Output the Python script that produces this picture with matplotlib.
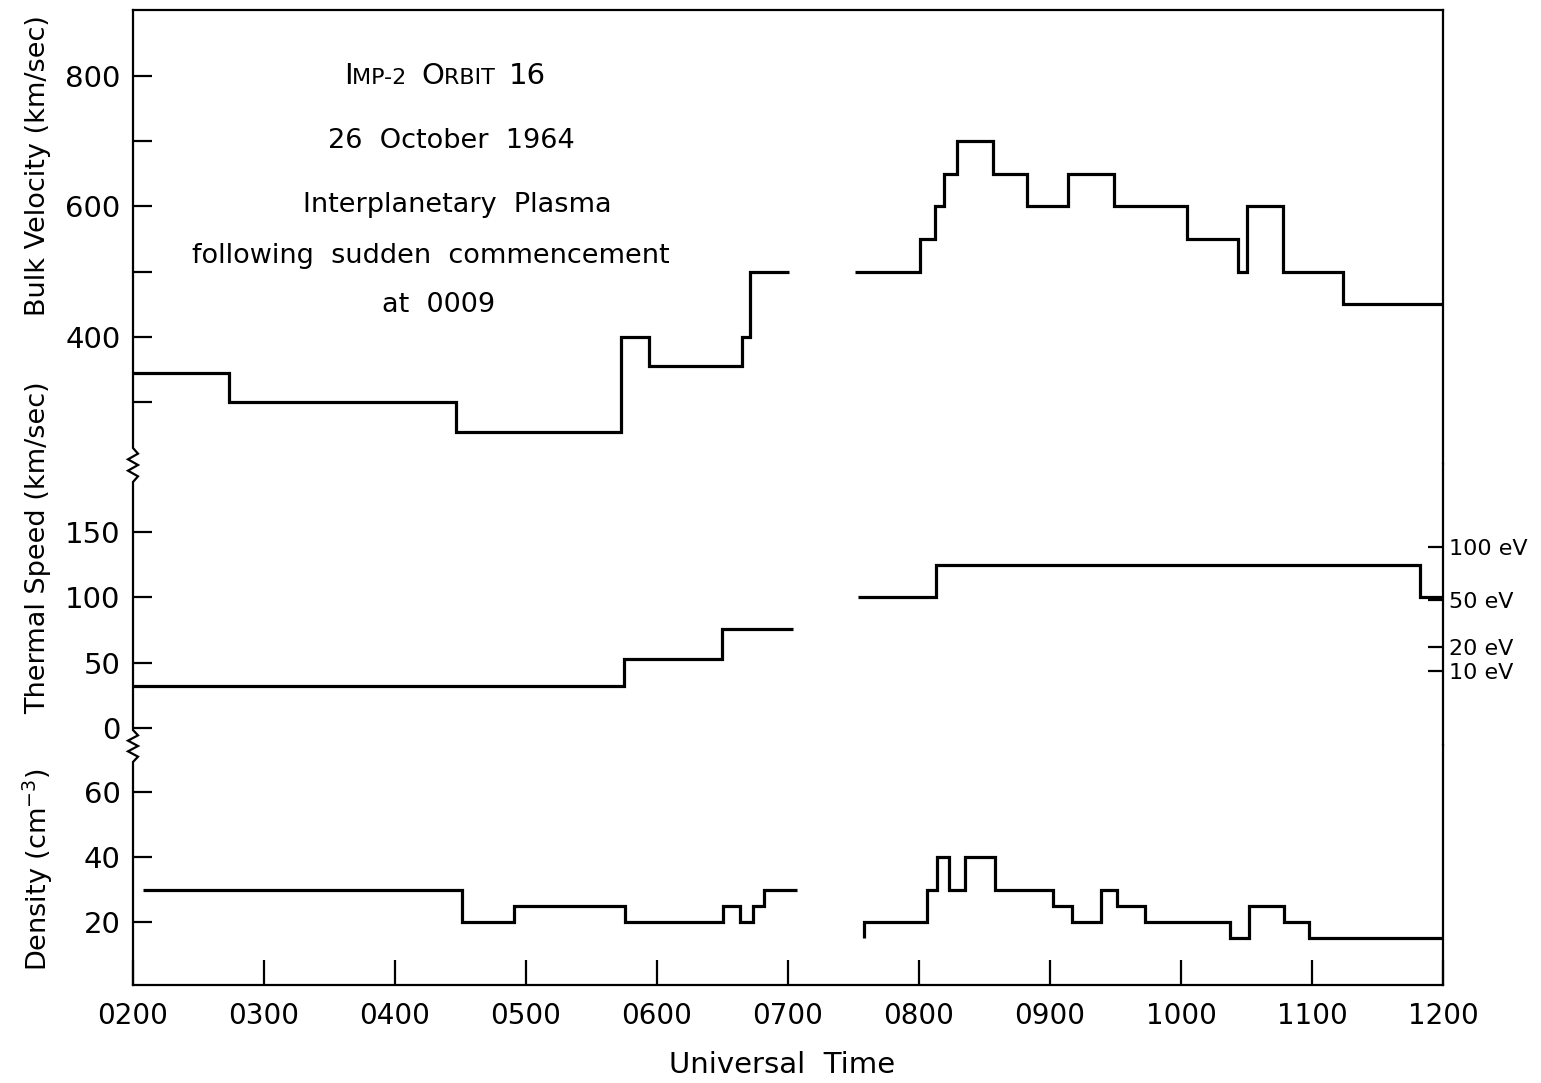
import matplotlib
matplotlib.use("Agg")
import matplotlib.pyplot as plt
from matplotlib.lines import Line2D
from matplotlib.offsetbox import TextArea, HPacker, AnnotationBbox

# --- data (time in hours UT) ---
vel_edges_a = [2.0, 2.733, 4.466, 5.725, 5.939, 6.649, 6.710, 7.008]
vel_vals_a = [345, 300, 255, 400, 355, 400, 500]
vel_edges_b = [7.511, 8.008, 8.122, 8.191, 8.290, 8.565, 8.824, 9.137, 9.489,
               10.046, 10.435, 10.504, 10.779, 11.237, 12.0]
vel_vals_b = [500, 550, 600, 650, 700, 650, 600, 650, 600, 550, 500, 600, 500, 450]

th_edges_a = [2.0, 5.748, 6.496, 7.038]
th_vals_a = [32, 53, 76]
th_edges_b = [7.534, 8.130, 11.824, 12.0]
th_vals_b = [100, 125, 100]

den_edges_a = [2.076, 4.511, 4.908, 5.756, 6.504, 6.634, 6.733, 6.817, 7.069]
den_vals_a = [30, 20, 25, 20, 25, 20, 25, 30]
den_edges_b = [7.580, 7.580, 8.061, 8.137, 8.229, 8.351, 8.580, 9.023, 9.168,
               9.389, 9.511, 9.725, 10.374, 10.519, 10.786, 10.977, 12.0]
den_vals_b = [15, 20, 30, 40, 30, 40, 30, 25, 20, 30, 25, 20, 15, 25, 20, 15]

hours = list(range(2, 13))
hour_labels = [f"{h:02d}00" for h in hours]

ev_speeds = [138.4, 97.9, 61.9, 43.8]
ev_labels = ["100 eV", "50 eV", "20 eV", "10 eV"]

W, H = 1541, 1083
plt.rcParams['font.family'] = ['DejaVu Sans']

fig = plt.figure(figsize=(W / 100, H / 100), dpi=100)


def fy(py):
    return 1 - py / H


L, R = 133 / W, 1443 / W
ax_v = fig.add_axes([L, fy(464), R - L, fy(10) - fy(464)])
ax_t = fig.add_axes([L, fy(745), R - L, fy(464) - fy(745)], sharex=ax_v)
ax_d = fig.add_axes([L, fy(985), R - L, fy(745) - fy(985)], sharex=ax_v)

lw = 2.3
for ax, parts in [(ax_v, [(vel_vals_a, vel_edges_a), (vel_vals_b, vel_edges_b)]),
                  (ax_t, [(th_vals_a, th_edges_a), (th_vals_b, th_edges_b)]),
                  (ax_d, [(den_vals_a, den_edges_a), (den_vals_b, den_edges_b)])]:
    for vals, edges in parts:
        ax.stairs(vals, edges, baseline=None, color='black', lw=lw)
    for s in ax.spines.values():
        s.set_linewidth(1.6)
    ax.spines['left'].set_visible(False)
    ax.tick_params(axis='both', which='both', direction='in', width=1.6,
                   labelsize=21, pad=9)
    ax.tick_params(axis='y', which='both', length=14)

ax_v.spines['bottom'].set_visible(False)
ax_t.spines['bottom'].set_visible(False)
ax_t.spines['top'].set_visible(False)
ax_d.spines['top'].set_visible(False)

ax_v.set_xlim(2, 12)
ax_v.tick_params(axis='x', which='both', bottom=False, labelbottom=False)
ax_t.tick_params(axis='x', which='both', bottom=False, labelbottom=False)
ax_d.set_xticks(hours)
ax_d.set_xticklabels(hour_labels)
ax_d.tick_params(axis='x', length=18, labelsize=20, pad=12)

ax_v.set_ylim(205.4, 901)
ax_v.set_yticks([400, 600, 800])
ax_v.set_yticks([300, 500, 700], minor=True)

ax_t.set_ylim(-13, 202)
ax_t.set_yticks([0, 50, 100, 150])

ax_d.set_ylim(0.6, 74.5)
ax_d.set_yticks([20, 40, 60])

# eV scale on the right of the thermal panel
ax_e = ax_t.twinx()
ax_e.set_ylim(ax_t.get_ylim())
ax_e.set_yticks(ev_speeds)
ax_e.set_yticklabels(ev_labels)
ax_e.tick_params(axis='y', direction='in', length=11, width=1.6, labelsize=16, pad=4)
for s in ax_e.spines.values():
    s.set_visible(False)

# left frame line with break marks
x0 = 133 / W
dx = 5 / W


def zig(y_top, y_bot, n=3):
    xs, ys = [], []
    step = (y_bot - y_top) / (2 * n)
    for i in range(2 * n + 1):
        ys.append(fy(y_top + i * step))
        if i == 0 or i == 2 * n:
            xs.append(x0)
        else:
            xs.append(x0 + dx if i % 2 else x0 - dx)
    return xs, ys


zx1, zy1 = zig(448, 482)
zx2, zy2 = zig(730, 762)
left_x = [x0] + zx1 + zx2 + [x0]
left_y = [fy(10)] + zy1 + zy2 + [fy(985)]
fig.add_artist(Line2D(left_x, left_y, color='black', lw=1.6,
                      transform=fig.transFigure, solid_joinstyle='miter'))

# axis titles
ylab = 19.5
fig.text(38 / W, fy(166), "Bulk Velocity (km/sec)", rotation=90,
         ha='center', va='center', fontsize=ylab)
fig.text(38 / W, fy(548), "Thermal Speed (km/sec)", rotation=90,
         ha='center', va='center', fontsize=ylab)
fig.text(38 / W, fy(870), "Density (cm$^{-3}$)", rotation=90,
         ha='center', va='center', fontsize=ylab)
fig.text(782 / W, fy(1065), "Universal  Time", ha='center', va='center',
         fontsize=21)

# annotation block
big, small = 21, 16
title = HPacker(children=[TextArea("I", textprops=dict(fontsize=big)),
                          TextArea("MP-2  ", textprops=dict(fontsize=small)),
                          TextArea("O", textprops=dict(fontsize=big)),
                          TextArea("RBIT  ", textprops=dict(fontsize=small)),
                          TextArea("16", textprops=dict(fontsize=big))],
                align='baseline', pad=0, sep=0)
ab = AnnotationBbox(title, (445 / W, fy(76)), xycoords='figure fraction',
                    frameon=False, box_alignment=(0.5, 0.5))
fig.add_artist(ab)

notes = [("26  October  1964", 451, 141),
         ("Interplanetary  Plasma", 457, 205),
         ("following  sudden  commencement", 431, 256),
         ("at  0009", 439, 305)]
for txt, px, py in notes:
    fig.text(px / W, fy(py), txt, ha='center', va='center', fontsize=19.5)

fig.savefig("out.png", dpi=100)
